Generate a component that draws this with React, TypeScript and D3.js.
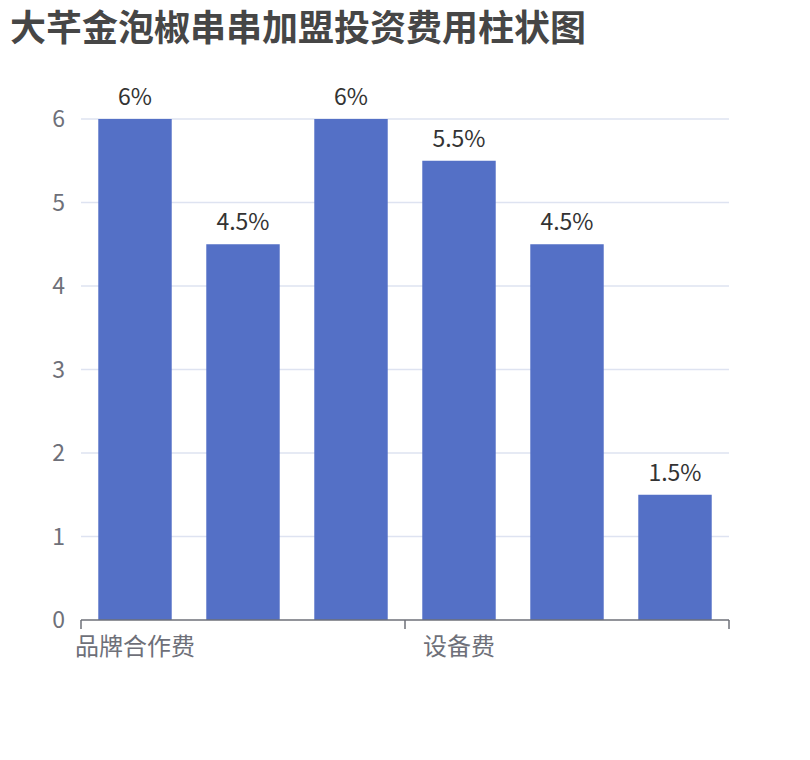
import React, { useEffect, useRef } from 'react';
import * as d3 from 'd3';

// 加盟投资费用 (单位: %)
const categories = ['品牌合作费', '首批进货费', '店面装修费', '设备费', '房租费用', '其他费用'];
const values = [6, 4.5, 6, 5.5, 4.5, 1.5];
const yTicks = [0, 1, 2, 3, 4, 5, 6];
const shownLabels = [0, 3]; // 只显示部分类目标签

const title = '大芊金泡椒串串加盟投资费用柱状图';

const width = 810;
const height = 760;
const margin = { top: 119, right: 81, bottom: 140, left: 81 };
const font = '"Noto Sans CJK SC", "Noto Sans", sans-serif';

const App: React.FC = () => {
  const svgRef = useRef<SVGSVGElement>(null);

  useEffect(() => {
    if (!svgRef.current) return;
    const svg = d3.select(svgRef.current);
    svg.selectAll('*').remove();

    const innerW = width - margin.left - margin.right;
    const innerH = height - margin.top - margin.bottom;

    const x = d3.scaleBand<number>().domain(d3.range(categories.length)).range([0, innerW]).paddingInner(0.32).paddingOuter(0.16);
    const band = d3.scaleBand<number>().domain(d3.range(categories.length)).range([0, innerW]);
    const y = d3.scaleLinear().domain([0, 6]).range([innerH, 0]);

    svg
      .append('text')
      .attr('x', 10)
      .attr('y', 41)
      .attr('font-family', font)
      .attr('font-size', 36)
      .attr('font-weight', 'bold')
      .attr('fill', '#464646')
      .text(title);

    const g = svg.append('g').attr('transform', `translate(${margin.left}, ${margin.top})`);

    // grid lines
    g.selectAll('line.grid')
      .data(yTicks.filter((t) => t > 0))
      .join('line')
      .attr('class', 'grid')
      .attr('x1', 0)
      .attr('x2', innerW)
      .attr('y1', (d) => y(d))
      .attr('y2', (d) => y(d))
      .attr('stroke', '#DEE3F1')
      .attr('stroke-width', 1.6);

    // y labels
    g.selectAll('text.ylab')
      .data(yTicks)
      .join('text')
      .attr('class', 'ylab')
      .attr('x', -16)
      .attr('y', (d) => y(d))
      .attr('dy', '0.35em')
      .attr('text-anchor', 'end')
      .attr('font-family', font)
      .attr('font-size', 23)
      .attr('fill', '#6E7079')
      .text((d) => d);

    // bars
    g.selectAll('rect.bar')
      .data(values)
      .join('rect')
      .attr('class', 'bar')
      .attr('x', (_, i) => x(i)!)
      .attr('width', x.bandwidth())
      .attr('y', (d) => y(d))
      .attr('height', (d) => innerH - y(d))
      .attr('fill', '#5470C6');

    // value labels
    g.selectAll('text.val')
      .data(values)
      .join('text')
      .attr('class', 'val')
      .attr('x', (_, i) => x(i)! + x.bandwidth() / 2)
      .attr('y', (d) => y(d) - 14)
      .attr('text-anchor', 'middle')
      .attr('font-family', font)
      .attr('font-size', 23)
      .attr('fill', '#333')
      .text((d) => `${d}%`);

    // x axis
    g.append('line')
      .attr('x1', 0)
      .attr('x2', innerW)
      .attr('y1', innerH)
      .attr('y2', innerH)
      .attr('stroke', '#6E7079')
      .attr('stroke-width', 1.5);

    const tickPos = [...shownLabels.map((i) => band(i)!), innerW];
    g.selectAll('line.tick')
      .data(tickPos)
      .join('line')
      .attr('class', 'tick')
      .attr('x1', (d) => d)
      .attr('x2', (d) => d)
      .attr('y1', innerH)
      .attr('y2', innerH + 9)
      .attr('stroke', '#6E7079')
      .attr('stroke-width', 1.5);

    g.selectAll('text.xlab')
      .data(shownLabels)
      .join('text')
      .attr('class', 'xlab')
      .attr('x', (i) => band(i)! + band.bandwidth() / 2)
      .attr('y', innerH + 27)
      .attr('dy', '0.35em')
      .attr('text-anchor', 'middle')
      .attr('font-family', font)
      .attr('font-size', 24)
      .attr('fill', '#6E7079')
      .text((i) => categories[i]);
  }, []);

  return (
    <svg
      ref={svgRef}
      width={width}
      height={height}
      style={{ position: 'absolute', left: 0, top: 0, background: '#fff' }}
    />
  );
};

export default App;
